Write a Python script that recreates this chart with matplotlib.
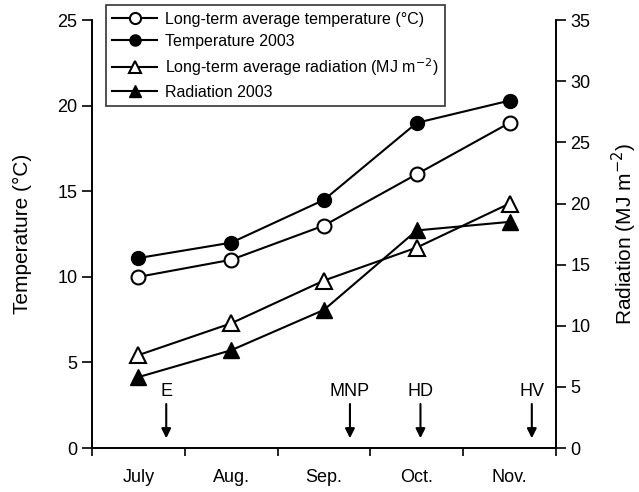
import matplotlib.pyplot as plt

plt.rcParams['font.family'] = ['Liberation Sans', 'DejaVu Sans']

months = ["July", "Aug.", "Sep.", "Oct.", "Nov."]
temp_longterm = [10.0, 11.0, 13.0, 16.0, 19.0]
temp_2003 = [11.1, 12.0, 14.5, 19.0, 20.3]
rad_longterm = [7.6, 10.2, 13.7, 16.4, 20.0]
rad_2003 = [5.8, 8.0, 11.3, 17.8, 18.5]

events = ["E", "MNP", "HD", "HV"]
event_x = [0.80, 2.78, 3.54, 4.74]

fig = plt.figure(figsize=(6.39, 4.92), dpi=100)
ax1 = fig.add_axes([0.144, 0.0894, 0.726, 0.8696])
ax2 = ax1.twinx()

x = [i + 0.5 for i in range(len(months))]

l1, = ax1.plot(x, temp_longterm, color="black", marker="o", markerfacecolor="white",
               markersize=10, markeredgewidth=1.5, linewidth=1.5,
               label="Long-term average temperature (\u00b0C)")
l2, = ax1.plot(x, temp_2003, color="black", marker="o", markerfacecolor="black",
               markersize=10, linewidth=1.5, label="Temperature 2003")
l3, = ax2.plot(x, rad_longterm, color="black", marker="^", markerfacecolor="white",
               markersize=11, markeredgewidth=1.5, linewidth=1.5,
               label="Long-term average radiation (MJ m$^{-2}$)")
l4, = ax2.plot(x, rad_2003, color="black", marker="^", markerfacecolor="black",
               markersize=11, linewidth=1.5, label="Radiation 2003")

ax1.set_xlim(0, 5)
ax1.set_ylim(0, 25)
ax2.set_ylim(0, 35)

ax1.set_xticks(range(6))
ax1.set_xticklabels([])
ax1.set_xticks(x, minor=True)
ax1.set_xticklabels(months, minor=True, fontsize=13)
ax1.tick_params(axis="x", which="minor", length=0, pad=15)
ax1.tick_params(axis="x", which="major", length=6, width=1.2, direction="out")
ax1.set_yticks(range(0, 26, 5))
ax1.tick_params(axis="y", length=7, width=1.2, labelsize=13, direction="out")
ax2.set_yticks(range(0, 36, 5))
ax2.tick_params(axis="y", length=7, width=1.2, labelsize=13, direction="out")

for ax in (ax1, ax2):
    ax.spines["top"].set_visible(False)
    for s in ("left", "right", "bottom"):
        ax.spines[s].set_linewidth(1.2)

ax1.set_ylabel("Temperature (\u00b0C)", fontsize=15, labelpad=18)
ax2.set_ylabel("Radiation (MJ m$^{-2}$)", fontsize=15, labelpad=14)

# Phenological stage arrows
for name, ex in zip(events, event_x):
    ax2.annotate("", xy=(ex, 0.8), xytext=(ex, 3.6),
                 arrowprops=dict(arrowstyle="-|>", color="black", lw=1.5,
                                 mutation_scale=14, shrinkA=0, shrinkB=0))
    ax2.text(ex, 4.6, name, ha="center", va="center", fontsize=13)

leg = ax2.legend(handles=[l1, l2, l3, l4], loc="upper left",
                 bbox_to_anchor=(0.03, 1.035), fontsize=11.5, frameon=True,
                 fancybox=False, edgecolor="black", handlelength=2.8,
                 borderpad=0.4, labelspacing=0.45, handletextpad=0.5,
                 borderaxespad=0, markerscale=0.8)
leg.get_frame().set_linewidth(1.2)

fig.savefig("out.png", dpi=100)
